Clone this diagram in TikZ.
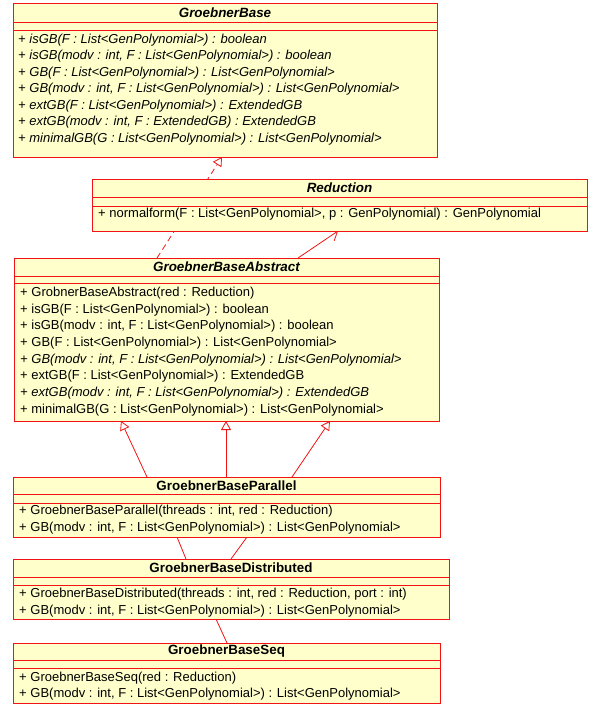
\documentclass[tikz,border=0pt]{standalone}
\usepackage{fontspec}
\setmainfont{Liberation Sans}
\usetikzlibrary{arrows.meta,backgrounds}

\definecolor{umlfill}{RGB}{255,255,204}
\definecolor{umlline}{RGB}{240,20,20}

\tikzset{
  classbox/.style={draw=umlline, fill=umlfill, line width=1pt, rectangle,
    inner sep=0pt, outer sep=0pt, anchor=north west},
  compsep/.style={draw=umlline, line width=0.9pt},
  classname/.style={font=\fontsize{13.4}{15}\selectfont\bfseries, inner sep=0pt},
  abstractname/.style={classname, font=\fontsize{13.4}{15}\selectfont\bfseries\itshape},
  member/.style={anchor=west, inner sep=0pt, font=\fontsize{13}{15}\selectfont},
  absmember/.style={member, font=\fontsize{13}{15}\selectfont\itshape},
  connector/.style={draw=umlline, line width=0.8pt},
  inherits/.style={connector, -{Triangle[open, length=9pt, width=10pt, fill=white]}},
  realizes/.style={inherits, dash pattern=on 6pt off 4pt},
  navigates/.style={connector, -{Straight Barb[length=8pt, width=12pt]}},
}

\begin{document}
\begin{tikzpicture}[x=1pt, y=-1pt]
\useasboundingbox (0,0) rectangle (590,706);

% ---------------- interface GroebnerBase ----------------
\node[classbox, minimum width=424, minimum height=153] (gb) at (13,4) {};
\draw[compsep] ([yshift=-18pt]gb.north west) -- ([yshift=-18pt]gb.north east);
\draw[compsep] ([yshift=-26pt]gb.north west) -- ([yshift=-26pt]gb.north east);
\node[abstractname] (gb-title) at ([yshift=-9pt]gb.north) {GroebnerBase};
\node[absmember] (gb-m1) at ([xshift=5pt, yshift=-36pt]gb.north west) {+ isGB(F : List<GenPolynomial>) : boolean};
\node[absmember] (gb-m2) at ([xshift=5pt, yshift=-52.5pt]gb.north west) {+ isGB(modv : int, F : List<GenPolynomial>) : boolean};
\node[absmember] (gb-m3) at ([xshift=5pt, yshift=-69pt]gb.north west) {+ GB(F : List<GenPolynomial>) : List<GenPolynomial>};
\node[absmember] (gb-m4) at ([xshift=5pt, yshift=-85.5pt]gb.north west) {+ GB(modv : int, F : List<GenPolynomial>) : List<GenPolynomial>};
\node[absmember] (gb-m5) at ([xshift=5pt, yshift=-102pt]gb.north west) {+ extGB(F : List<GenPolynomial>) : ExtendedGB};
\node[absmember] (gb-m6) at ([xshift=5pt, yshift=-118.5pt]gb.north west) {+ extGB(modv : int, F : ExtendedGB) : ExtendedGB};
\node[absmember] (gb-m7) at ([xshift=5pt, yshift=-135pt]gb.north west) {+ minimalGB(G : List<GenPolynomial>) : List<GenPolynomial>};

% ---------------- interface Reduction ----------------
\node[classbox, minimum width=495, minimum height=52] (red) at (92,179) {};
\draw[compsep] ([yshift=-18pt]red.north west) -- ([yshift=-18pt]red.north east);
\draw[compsep] ([yshift=-27pt]red.north west) -- ([yshift=-27pt]red.north east);
\node[abstractname] (red-title) at ([yshift=-9pt]red.north) {Reduction};
\node[member] (red-m1) at ([xshift=6pt, yshift=-35pt]red.north west) {+ normalform(F : List<GenPolynomial>, p : GenPolynomial) : GenPolynomial};

% ---------------- abstract class GroebnerBaseAbstract ----------------
\node[classbox, minimum width=425, minimum height=163] (abs) at (14,258) {};
\draw[compsep] ([yshift=-18pt]abs.north west) -- ([yshift=-18pt]abs.north east);
\draw[compsep] ([yshift=-25pt]abs.north west) -- ([yshift=-25pt]abs.north east);
\node[abstractname] (abs-title) at ([yshift=-9pt]abs.north) {GroebnerBaseAbstract};
\node[member] (abs-m1) at ([xshift=6pt, yshift=-35pt]abs.north west) {+ GrobnerBaseAbstract(red : Reduction)};
\node[member] (abs-m2) at ([xshift=6pt, yshift=-51.7pt]abs.north west) {+ isGB(F : List<GenPolynomial>) : boolean};
\node[member] (abs-m3) at ([xshift=6pt, yshift=-68.4pt]abs.north west) {+ isGB(modv : int, F : List<GenPolynomial>) : boolean};
\node[member] (abs-m4) at ([xshift=6pt, yshift=-85.1pt]abs.north west) {+ GB(F : List<GenPolynomial>) : List<GenPolynomial>};
\node[absmember] (abs-m5) at ([xshift=6pt, yshift=-101.8pt]abs.north west) {+ GB(modv : int, F : List<GenPolynomial>) : List<GenPolynomial>};
\node[member] (abs-m6) at ([xshift=6pt, yshift=-118.5pt]abs.north west) {+ extGB(F : List<GenPolynomial>) : ExtendedGB};
\node[absmember] (abs-m7) at ([xshift=6pt, yshift=-135.2pt]abs.north west) {+ extGB(modv : int, F : List<GenPolynomial>) : ExtendedGB};
\node[member] (abs-m8) at ([xshift=6pt, yshift=-151.9pt]abs.north west) {+ minimalGB(G : List<GenPolynomial>) : List<GenPolynomial>};

% ---------------- class GroebnerBaseParallel ----------------
\node[classbox, minimum width=427, minimum height=60] (par) at (13,477) {};
\draw[compsep] ([yshift=-17pt]par.north west) -- ([yshift=-17pt]par.north east);
\draw[compsep] ([yshift=-26pt]par.north west) -- ([yshift=-26pt]par.north east);
\node[classname] (par-title) at ([yshift=-8.5pt]par.north) {GroebnerBaseParallel};
\node[member] (par-m1) at ([xshift=6pt, yshift=-34.5pt]par.north west) {+ GroebnerBaseParallel(threads : int, red : Reduction)};
\node[member] (par-m2) at ([xshift=6pt, yshift=-51pt]par.north west) {+ GB(modv : int, F : List<GenPolynomial>) : List<GenPolynomial>};

% ---------------- class GroebnerBaseDistributed ----------------
\node[classbox, minimum width=436, minimum height=60] (dist) at (13,559) {};
\draw[compsep] ([yshift=-18pt]dist.north west) -- ([yshift=-18pt]dist.north east);
\draw[compsep] ([yshift=-26pt]dist.north west) -- ([yshift=-26pt]dist.north east);
\node[classname] (dist-title) at ([yshift=-9pt]dist.north) {GroebnerBaseDistributed};
\node[member] (dist-m1) at ([xshift=6pt, yshift=-35pt]dist.north west) {+ GroebnerBaseDistributed(threads : int, red : Reduction, port : int)};
\node[member] (dist-m2) at ([xshift=6pt, yshift=-52pt]dist.north west) {+ GB(modv : int, F : List<GenPolynomial>) : List<GenPolynomial>};

% ---------------- class GroebnerBaseSeq ----------------
\node[classbox, minimum width=427, minimum height=60] (seq) at (13,643) {};
\draw[compsep] ([yshift=-17pt]seq.north west) -- ([yshift=-17pt]seq.north east);
\draw[compsep] ([yshift=-25pt]seq.north west) -- ([yshift=-25pt]seq.north east);
\node[classname] (seq-title) at ([yshift=-8.5pt]seq.north) {GroebnerBaseSeq};
\node[member] (seq-m1) at ([xshift=6pt, yshift=-35pt]seq.north west) {+ GroebnerBaseSeq(red : Reduction)};
\node[member] (seq-m2) at ([xshift=6pt, yshift=-51pt]seq.north west) {+ GB(modv : int, F : List<GenPolynomial>) : List<GenPolynomial>};

% ---------------- relations (behind the boxes) ----------------
\begin{scope}[on background layer]
  % GroebnerBaseAbstract implements GroebnerBase
  \draw[realizes] ([xshift=143pt]abs.north west) -- ([xshift=209pt]gb.south west);
  % GroebnerBaseAbstract holds a Reduction
  \draw[navigates] ([xshift=284pt]abs.north west) -- ([xshift=246pt]red.south west);
  % GroebnerBaseParallel extends GroebnerBaseAbstract
  \draw[inherits] ([xshift=134pt]par.north west) -- ([xshift=107pt]abs.south west);
  \draw[inherits] ([xshift=213pt]par.north west) -- ([xshift=212pt]abs.south west);
  \draw[inherits] ([xshift=279pt]par.north west) -- ([xshift=316pt]abs.south west);
  % links between the concrete classes
  \draw[connector] ([xshift=164pt]par.south west) -- ([xshift=173pt]dist.north west);
  \draw[connector] ([xshift=234pt]par.south west) -- ([xshift=218pt]dist.north west);
  \draw[connector] ([xshift=203pt]dist.south west) -- ([xshift=214pt]seq.north west);
\end{scope}
\end{tikzpicture}
\end{document}
